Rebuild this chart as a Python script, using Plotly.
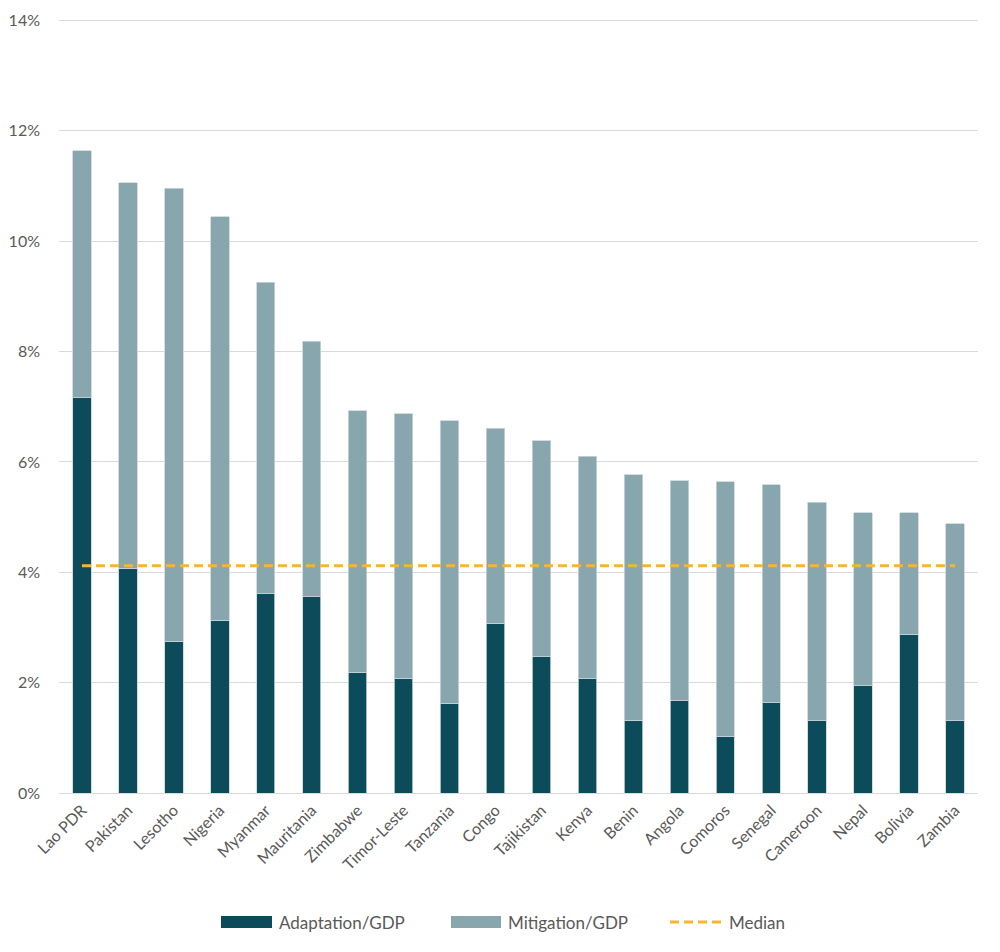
import plotly.graph_objects as go

countries = ["Lao PDR", "Pakistan", "Lesotho", "Nigeria", "Myanmar", "Mauritania",
             "Zimbabwe", "Timor-Leste", "Tanzania", "Congo", "Tajikistan", "Kenya",
             "Benin", "Angola", "Comoros", "Senegal", "Cameroon", "Nepal", "Bolivia", "Zambia"]
totals = [11.64, 11.06, 10.96, 10.44, 9.26, 8.19, 6.93, 6.87, 6.75, 6.61,
          6.38, 6.10, 5.77, 5.66, 5.64, 5.59, 5.27, 5.08, 5.08, 4.88]
adaptation = [7.16, 4.07, 2.75, 3.13, 3.61, 3.56, 2.19, 2.08, 1.63, 3.08,
              2.47, 2.07, 1.32, 1.67, 1.03, 1.64, 1.31, 1.94, 2.88, 1.31]
mitigation = [round(t - a, 2) for t, a in zip(totals, adaptation)]
median_value = 4.12
y_ticks = [0, 2, 4, 6, 8, 10, 12, 14]

FONT = "Lato"
TXT = "#595959"
C_ADAPT = "#0C4C5A"
C_MITIG = "#87A6AD"
C_MED = "#F9B430"

# page has an 8px body margin; compensate
OFF = 8
Y_MAX = 14.1
PX_PER_UNIT = (793 - 21) / 14.0
W, H = 1000 - 2 * OFF, 952 - 2 * OFF
L = 59 - OFF
T = (793 - Y_MAX * PX_PER_UNIT) - OFF
R = W - (978 - OFF)
B = H - (793 - OFF)
PW, PH = W - L - R, H - T - B


def px(x):
    return (x - OFF - L) / PW


def py(y):
    return (H - B - (y - OFF)) / PH


fig = go.Figure()
fig.add_trace(go.Bar(
    x=countries, y=adaptation, name="Adaptation/GDP",
    marker=dict(color=C_ADAPT, line=dict(color="#C9D6D9", width=0.8)),
))
fig.add_trace(go.Bar(
    x=countries, y=mitigation, name="Mitigation/GDP",
    marker=dict(color=C_MITIG, line=dict(color="#C9D6D9", width=0.8)),
))
fig.add_trace(go.Scatter(
    x=countries, y=[median_value] * len(countries), name="Median",
    mode="lines", line=dict(color=C_MED, width=3, dash="9px,5px"),
))

# custom legend (shapes + text)
shapes = [
    dict(type="rect", xref="paper", yref="paper", x0=px(221), x1=px(272), y0=py(928), y1=py(916),
         fillcolor=C_ADAPT, line=dict(width=0)),
    dict(type="rect", xref="paper", yref="paper", x0=px(451), x1=px(501), y0=py(928), y1=py(916),
         fillcolor=C_MITIG, line=dict(width=0)),
    dict(type="line", xref="paper", yref="paper", x0=px(670), x1=px(722), y0=py(922), y1=py(922),
         line=dict(color=C_MED, width=3, dash="9px,5px")),
]
annotations = [
    dict(text="Adaptation/GDP", x=px(277), y=py(922)),
    dict(text="Mitigation/GDP", x=px(506), y=py(922)),
    dict(text="Median", x=px(727), y=py(922)),
]
for a in annotations:
    a.update(xref="paper", yref="paper", xanchor="left", yanchor="middle", showarrow=False,
             font=dict(family=FONT, size=17, color=TXT))

fig.update_layout(
    width=W, height=H,
    barmode="stack", bargap=0.6,
    plot_bgcolor="white", paper_bgcolor="white",
    margin=dict(l=L, r=R, t=T, b=B, autoexpand=False),
    font=dict(family=FONT, color=TXT, size=15),
    showlegend=False,
    shapes=shapes, annotations=annotations,
    yaxis=dict(range=[0, Y_MAX], tickvals=y_ticks, ticktext=[f"{v}%" for v in y_ticks],
               showgrid=True, gridcolor="#D9D9D9", gridwidth=1,
               zeroline=True, zerolinecolor="#D9D9D9", zerolinewidth=1,
               tickfont=dict(size=16, color=TXT), ticks="", showline=False,
               ticklabelstandoff=18),
    xaxis=dict(tickangle=-45, tickfont=dict(size=16, color=TXT), showgrid=False,
               showline=False, ticks="", ticklabelstandoff=4),
)

fig.write_html("out.html")
